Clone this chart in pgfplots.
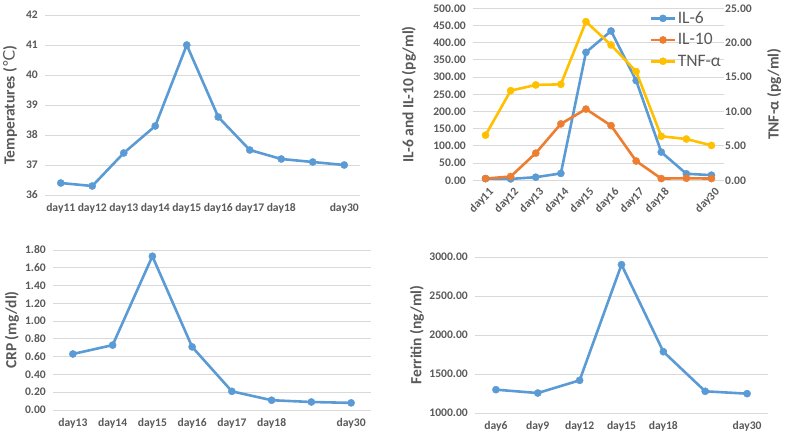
\documentclass[border=0pt]{standalone}
\usepackage{pgfplots}
\pgfplotsset{compat=1.18}
\usepackage{fontspec}
\setmainfont{Carlito}
\newfontfamily\dejavu{DejaVu Sans}
\definecolor{cblue}{HTML}{5B9BD5}
\definecolor{corange}{HTML}{ED7D31}
\definecolor{cyellow}{HTML}{FFC000}
\definecolor{gridc}{HTML}{D9D9D9}
\definecolor{txt}{HTML}{595959}
\pgfplotsset{
  panel/.style={
    scale only axis,
    axis line style={draw=none},
    major tick length=0pt,
    ymajorgrids,
    grid style={draw=gridc, line width=0.9pt},
    clip=false,
    /pgf/number format/assume math mode=true,
    tick label style={font=\bfseries\fontsize{11.6}{13}\selectfont, text=txt},
    yticklabel style={anchor=east, inner sep=0pt, xshift=-7pt},
    xticklabel style={anchor=north, inner sep=0pt, yshift=-8pt},
    label style={font=\bfseries\fontsize{15.5}{17}\selectfont, text=txt},
    ylabel style={anchor=center},
  },
  ser/.style={draw=#1, line width=2.6pt, mark=*, mark size=3.6pt, mark options={solid, fill=#1, draw=#1, line width=0.4pt}},
}
\begin{document}
\begin{tikzpicture}[x=1pt,y=1pt]
\path[use as bounding box] (0,0) rectangle (790,439);

% Panel 1: temperature
\begin{axis}[panel, at={(45pt,244pt)}, anchor=south west,
  width=315pt, height=180pt,
  xmin=-0.5, xmax=9.5, ymin=36, ymax=42,
  xtick={0,...,9},
  xticklabels={day11,day12,day13,day14,day15,day16,day17,day18,{},day30},
  ytick={36,37,38,39,40,41,42},
  ylabel={Temperatures ({\dejavu\mdseries ℃})},
  ylabel style={at={(axis description cs:-0.111,0.5)}},
]
\addplot[ser=cblue] coordinates {(0,36.4) (1,36.3) (2,37.4) (3,38.3) (4,41.0) (5,38.6) (6,37.5) (7,37.2) (8,37.1) (9,37.0)};
\end{axis}

% Panel 2: IL-6 / IL-10 left axis
\begin{axis}[panel, at={(473pt,258.7pt)}, anchor=south west,
  width=251pt, height=172pt,
  xmin=-0.5, xmax=9.5, ymin=0, ymax=500,
  xtick={0,...,9},
  xticklabels={day11,day12,day13,day14,day15,day16,day17,day18,{},day30},
  xticklabel style={rotate=45, anchor=east, yshift=-6pt, xshift=3pt},
  ytick={0,50,...,500},
  yticklabel style={/pgf/number format/.cd, fixed, fixed zerofill, precision=2},
  ylabel={IL-6 and IL-10 (pg/ml)},
  ylabel style={at={(axis description cs:-0.255,0.5)}},
]
\addplot[ser=cblue] coordinates {(0,5) (1,4) (2,9) (3,20) (4,372) (5,434) (6,290) (7,82) (8,19) (9,15)};
\addplot[ser=corange] coordinates {(0,5) (1,11) (2,79) (3,164) (4,207) (5,159) (6,56) (7,5) (8,6) (9,5)};
\end{axis}
% Panel 2: TNF right axis
\begin{axis}[panel, at={(473pt,258.7pt)}, anchor=south west,
  width=251pt, height=172pt,
  ymajorgrids=false,
  axis y line*=right, axis x line=none,
  xmin=-0.5, xmax=9.5, ymin=0, ymax=25,
  ytick={0,5,...,25},
  yticklabel style={anchor=west, xshift=8pt, /pgf/number format/.cd, fixed, fixed zerofill, precision=2},
  ylabel={TNF-α (pg/ml)},
  ylabel style={at={(axis description cs:1.2,0.5)}, rotate=0},
  legend style={at={(axis description cs:0.703,0.99)}, anchor=north west, draw=none, fill=none,
    font=\fontsize{17.5}{19}\selectfont, text=txt, inner sep=0pt, row sep=5.5pt,
    nodes={inner sep=1.5pt}},
  legend cell align=left,
  legend image code/.code={\draw[mark repeat=2,mark phase=2,#1] plot coordinates {(0pt,0pt) (12pt,0pt) (24pt,0pt)};},
]
\addlegendimage{ser=cblue}
\addlegendentry{IL-6}
\addlegendimage{ser=corange}
\addlegendentry{IL-10}
\addplot[ser=cyellow] coordinates {(0,6.56) (1,13.03) (2,13.86) (3,13.95) (4,23.06) (5,19.67) (6,15.8) (7,6.4) (8,6.0) (9,5.07)};
\addlegendentry{TNF-α}
\end{axis}

% Panel 3: CRP
\begin{axis}[panel, at={(53pt,29pt)}, anchor=south west,
  width=318pt, height=160pt,
  xmin=-0.5, xmax=7.5, ymin=0, ymax=1.8,
  xtick={0,...,7},
  xticklabels={day13,day14,day15,day16,day17,day18,{},day30},
  ytick={0,0.2,...,1.8},
  yticklabel style={/pgf/number format/.cd, fixed, fixed zerofill, precision=2},
  ylabel={CRP (mg/dl)},
  ylabel style={at={(axis description cs:-0.129,0.5)}},
]
\addplot[ser=cblue] coordinates {(0,0.63) (1,0.73) (2,1.73) (3,0.71) (4,0.21) (5,0.11) (6,0.09) (7,0.08)};
\end{axis}

% Panel 4: Ferritin
\begin{axis}[panel, at={(475pt,26pt)}, anchor=south west,
  width=293pt, height=156pt,
  xmin=-0.5, xmax=6.5, ymin=1000, ymax=3000,
  xtick={0,...,6},
  xticklabels={day6,day9,day12,day15,day18,{},day30},
  ytick={1000,1500,2000,2500,3000},
  yticklabel style={/pgf/number format/.cd, fixed, fixed zerofill, precision=2, 1000 sep={}},
  ylabel={Ferritin (ng/ml)},
  ylabel style={at={(axis description cs:-0.198,0.5)}},
]
\addplot[ser=cblue] coordinates {(0,1299) (1,1256) (2,1419) (3,2902) (4,1786) (5,1278) (6,1248)};
\end{axis}
\end{tikzpicture}
\end{document}
